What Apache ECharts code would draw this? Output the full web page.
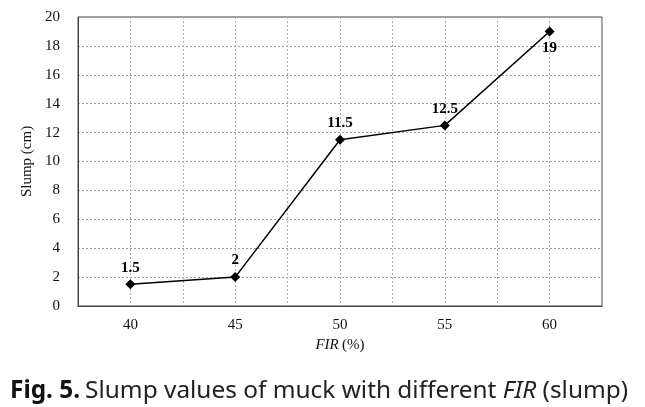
<!DOCTYPE html>
<html><head><meta charset="utf-8">
<script src="https://cdn.jsdelivr.net/npm/echarts@6/dist/echarts.min.js"></script>
<style>html,body{margin:0;padding:0;background:#fff}#c{width:645px;height:407px}</style>
</head><body><div id="c"></div>
<script>
const categories = [40, 45, 50, 55, 60];
const slump = [1.5, 2, 11.5, 12.5, 19];
const labelPos = ['top', 'top', 'top', 'top', 'bottom'];
const yTicks = [0, 2, 4, 6, 8, 10, 12, 14, 16, 18, 20];

const chart = echarts.init(document.getElementById('c'), null, {renderer: 'canvas'});
const serif = '"Liberation Serif", "Times New Roman", serif';
const sans = '"Noto Sans", "Open Sans", sans-serif';
chart.setOption({
  animation: false,
  backgroundColor: '#fff',
  title: {
    text: '{b|Fig. 5.} {n|Slump values of muck with different }{i|FIR}{n| (slump)}',
    left: 5, top: 374,
    textStyle: {
      fontWeight: 'normal',
      rich: {
        b: {fontFamily: sans, fontSize: 24.4, fontWeight: 'bold', color: '#111'},
        n: {fontFamily: sans, fontSize: 24.4, fontWeight: 'normal', color: '#222'},
        i: {fontFamily: sans, fontSize: 24.4, fontWeight: 'normal', fontStyle: 'italic', color: '#222'}
      }
    }
  },
  grid: {left: 78, right: 43, top: 17, bottom: 101, show: true, borderColor: '#444', borderWidth: 1, backgroundColor: 'transparent'},
  xAxis: {
    type: 'value', min: 37.5, max: 62.5, interval: 2.5,
    name: '{i|FIR} {n|(%)}', nameLocation: 'middle', nameGap: 30,
    nameTextStyle: {rich: {
      i: {fontFamily: serif, fontStyle: 'italic', fontSize: 15, color: '#111'},
      n: {fontFamily: serif, fontSize: 15, color: '#111'}
    }},
    axisLine: {show: true, lineStyle: {color: '#444', width: 1}},
    axisTick: {show: false},
    axisLabel: {
      fontFamily: serif, fontSize: 15, color: '#111', margin: 12,
      formatter: v => categories.indexOf(v) >= 0 ? String(v) : ''
    },
    splitLine: {show: true, lineStyle: {color: '#b0b0b0', type: [2, 2], width: 1}}
  },
  yAxis: {
    type: 'value', min: 0, max: 20, interval: 2,
    name: 'Slump (cm)', nameLocation: 'middle', nameGap: 32,
    nameTextStyle: {fontFamily: serif, fontSize: 15, color: '#111'},
    axisLine: {show: true, lineStyle: {color: '#444', width: 1}},
    axisTick: {show: false},
    axisLabel: {fontFamily: serif, fontSize: 15, color: '#111', margin: 18,
      formatter: v => yTicks.indexOf(v) >= 0 ? String(v) : ''},
    splitLine: {show: true, lineStyle: {color: '#a0a0a0', type: [2, 2], width: 1}}
  },
  series: [{
    type: 'line',
    data: categories.map((c, i) => ({
      value: [c, slump[i]],
      label: {position: labelPos[i], distance: 4}
    })),
    symbol: 'diamond', symbolSize: 10,
    itemStyle: {color: '#000'},
    lineStyle: {color: '#000', width: 1.5},
    label: {show: true, formatter: p => String(p.value[1]), fontFamily: serif, fontWeight: 'bold', fontSize: 15, color: '#000'}
  }]
});
</script></body></html>
